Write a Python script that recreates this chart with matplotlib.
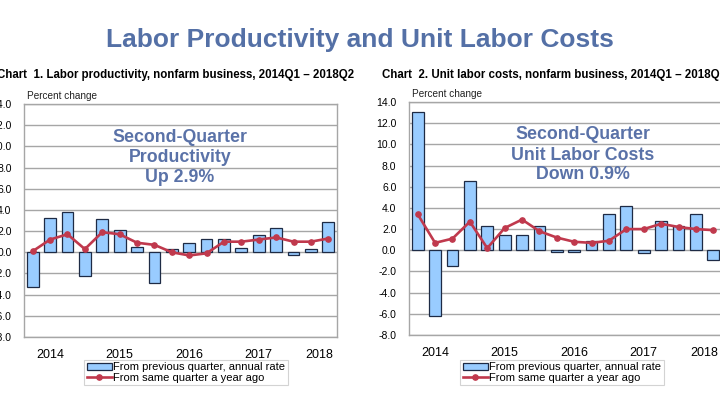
import matplotlib
matplotlib.use("Agg")
import matplotlib.pyplot as plt
from matplotlib.patches import Patch
from matplotlib.lines import Line2D
import numpy as np

quarters = ["2014Q1", "2014Q2", "2014Q3", "2014Q4", "2015Q1", "2015Q2", "2015Q3", "2015Q4",
            "2016Q1", "2016Q2", "2016Q3", "2016Q4", "2017Q1", "2017Q2", "2017Q3", "2017Q4",
            "2018Q1", "2018Q2"]
year_labels = ["2014", "2015", "2016", "2017", "2018"]
year_pos = [1, 5, 9, 13, 16.5]

prod_qoq = [-3.3, 3.2, 3.8, -2.2, 3.1, 2.1, 0.5, -2.9, 0.3, 0.9, 1.3, 1.3, 0.4, 1.6, 2.3, -0.3, 0.3, 2.9]
prod_yoy = [0.1, 1.2, 1.7, 0.3, 1.9, 1.7, 0.9, 0.7, 0.0, -0.3, -0.1, 1.0, 1.0, 1.2, 1.4, 1.0, 1.0, 1.3]

ulc_qoq = [13.1, -6.2, -1.5, 6.5, 2.3, 1.4, 1.4, 2.3, -0.2, -0.2, 0.9, 3.4, 4.2, -0.3, 2.8, 2.3, 3.4, -0.9]
ulc_yoy = [3.4, 0.7, 1.1, 2.7, 0.2, 2.1, 2.9, 1.8, 1.2, 0.8, 0.7, 0.9, 2.0, 2.0, 2.5, 2.2, 2.0, 1.9]

yticks = np.arange(-8, 14.1, 2)

W, H = 720, 405
fig = plt.figure(figsize=(7.2, 4.05), dpi=100)
fig.patch.set_facecolor("white")

BAR = "#99CCFF"
EDGE = "#1E2B45"
LINE = "#C0394D"
GRID = "#A6A6A6"
TITLE_C = "#5470A6"
ANN_C = "#5A72A8"
FONT = ["Liberation Sans", "DejaVu Sans"]


def fx(x):
    return x / W


def fy(y):
    return 1 - y / H


def make_chart(left, top, bottom, qoq, yoy, title, title_x, ann_lines, ann_x, ann_ys,
               leg_box):
    width = 313
    ax = fig.add_axes([fx(left), fy(bottom), width / W, (bottom - top) / H])
    x = np.arange(len(quarters))
    ax.bar(x, qoq, width=0.68, color=BAR, edgecolor=EDGE, linewidth=0.9, zorder=3)
    ax.plot(x, yoy, color=LINE, linewidth=1.9, marker="o", markersize=3.8, zorder=4)
    ax.set_xlim(-0.5, len(quarters) - 0.5)
    ax.set_ylim(-8, 14)
    ax.set_yticks(yticks)
    ax.set_yticklabels([f"{v:.1f}" for v in yticks], fontsize=7.5, family=FONT)
    ax.set_xticks(year_pos)
    ax.set_xticklabels(year_labels, fontsize=9, family=FONT)
    ax.tick_params(axis="x", length=0, pad=9)
    ax.tick_params(axis="y", length=0, pad=9)
    ax.grid(axis="y", color=GRID, linewidth=1.0, zorder=0)
    for s in ax.spines.values():
        s.set_color(GRID)
        s.set_linewidth(1.0)
    fig.text(fx(title_x), fy(75), title, fontsize=8.3, fontweight="bold", family=FONT,
             ha="left", va="center", color="black")
    fig.text(fx(left + 3), fy(top - 8), "Percent change", fontsize=7.2, family=FONT,
             ha="left", va="center", color="#222222")
    for line, yy in zip(ann_lines, ann_ys):
        fig.text(fx(ann_x), fy(yy), line, fontsize=12.8, fontweight="bold", family=FONT,
                 ha="center", va="center", color=ANN_C)
    handles = [Patch(facecolor=BAR, edgecolor=EDGE, linewidth=0.9),
               Line2D([], [], color=LINE, linewidth=1.9, marker="o", markersize=3.8)]
    labels = ["From previous quarter, annual rate", "From same quarter a year ago"]
    x0, y0, x1, y1 = leg_box
    leg = fig.legend(handles, labels, loc="center",
                     bbox_to_anchor=(fx((x0 + x1) / 2), fy((y0 + y1) / 2)),
                     prop={"family": FONT, "size": 8.0},
                     frameon=True, fancybox=False, borderpad=0.2, labelspacing=0.05,
                     handlelength=2.3, handletextpad=0.1, handleheight=0.6,
                     borderaxespad=0)
    leg.get_frame().set_edgecolor("#C8C8C8")
    leg.get_frame().set_linewidth(0.8)
    return ax


make_chart(24, 104, 337, prod_qoq, prod_yoy,
           "Chart  1. Labor productivity, nonfarm business, 2014Q1 \u2013 2018Q2", -3,
           ["Second-Quarter", "Productivity", "Up 2.9%"], 180, [137, 157, 177],
           (82, 361, 290, 384))
make_chart(409, 102, 335, ulc_qoq, ulc_yoy,
           "Chart  2. Unit labor costs, nonfarm business, 2014Q1 \u2013 2018Q2", 382,
           ["Second-Quarter", "Unit Labor Costs", "Down 0.9%"], 583, [135, 156, 175],
           (457, 361, 667, 384))

fig.text(0.5, fy(40), "Labor Productivity and Unit Labor Costs", fontsize=19,
         fontweight="bold", family=["Liberation Sans Narrow", "Liberation Sans", "DejaVu Sans"],
         ha="center", va="center", color=TITLE_C)

fig.savefig("out.png", dpi=100)
